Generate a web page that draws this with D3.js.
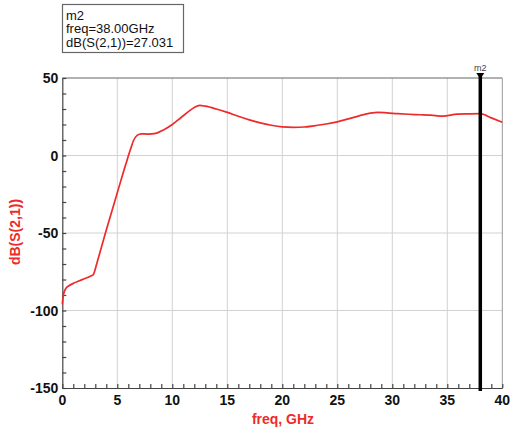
<!DOCTYPE html>
<html><head><meta charset="utf-8">
<script src="https://cdn.jsdelivr.net/npm/d3@7"></script>
<style>body{margin:0;background:#fff;}svg{display:block;font-family:"Liberation Sans",Arial,sans-serif;}</style>
</head><body><svg id="c" width="511" height="430"></svg>
<script>
const freq = [0, 0.1, 0.3, 0.6, 1, 1.5, 2, 2.5, 2.8, 3.2, 4, 5, 5.8, 6.2, 6.5, 6.8, 7.2, 7.8, 8.5, 9.2, 10, 10.8, 11.5, 12, 12.5, 13, 14, 15, 16, 17, 18, 19, 20, 21, 22, 23, 24, 25, 26, 27, 28, 28.7, 29.5, 30.5, 31.5, 32.5, 33.5, 34.6, 35.9, 37, 38, 39, 40];
const s21 = [-96, -90, -86, -84, -82.5, -81, -79.5, -78, -77, -68, -48, -24, -5, 4, 10, 13, 14, 13.8, 14.3, 16.5, 20, 24.5, 28.5, 31, 32.3, 31.8, 30, 27.8, 25.3, 23, 21, 19.5, 18.5, 18.2, 18.4, 19.3, 20.3, 21.7, 23.6, 25.6, 27.3, 27.8, 27.5, 27.0, 26.6, 26.3, 26.0, 25.4, 26.7, 26.9, 27.0, 24.3, 21.5];
const xTicks = [0, 5, 10, 15, 20, 25, 30, 35, 40];
const yTicks = [50, 0, -50, -100, -150];
const markerName = "m2";
const markerFreq = 38;
const markerLines = ["m2", "freq=38.00GHz", "dB(S(2,1))=27.031"];
const xTitle = "freq, GHz";
const yTitle = "dB(S(2,1))";

const svg = d3.select("#c");
const L = 62.3, R = 502.3, T = 78, B = 388;
const x = d3.scaleLinear().domain([0, 40]).range([L, R]);
const y = d3.scaleLinear().domain([-150, 50]).range([B, T]);
const red = "#ee2a2a";

// grid
svg.append("g").selectAll("line").data(xTicks.slice(1, -1)).join("line")
  .attr("x1", d => x(d)).attr("x2", d => x(d)).attr("y1", T).attr("y2", B)
  .attr("stroke", "#d2d2d2").attr("stroke-width", 1);
svg.append("g").selectAll("line").data(yTicks.slice(1, -1)).join("line")
  .attr("x1", L).attr("x2", R).attr("y1", d => y(d)).attr("y2", d => y(d))
  .attr("stroke", "#d2d2d2").attr("stroke-width", 1);

// frame top / right
svg.append("line").attr("x1", L).attr("x2", R).attr("y1", T).attr("y2", T).attr("stroke", "#666").attr("stroke-width", 1.2);
svg.append("line").attr("x1", R).attr("x2", R).attr("y1", T).attr("y2", B).attr("stroke", "#999").attr("stroke-width", 1);

// axes with inward minor ticks
const yAxis = d3.axisLeft(y).tickValues(d3.range(-150, 51, 10)).tickSizeInner(-4).tickSizeOuter(0).tickFormat("");
const gy = svg.append("g").attr("transform", `translate(${L},0)`).call(yAxis);
gy.selectAll("path,line").attr("stroke", "#444").attr("stroke-width", 1.2);
const xAxis = d3.axisBottom(x).tickValues(d3.range(0, 41, 1)).tickSizeInner(-4).tickSizeOuter(0).tickFormat("");
const gx = svg.append("g").attr("transform", `translate(0,${B})`).call(xAxis);
gx.selectAll("path,line").attr("stroke", "#444").attr("stroke-width", 1.2);

// tick labels
svg.append("g").selectAll("text").data(yTicks).join("text")
  .attr("x", L - 4).attr("y", d => y(d) + 5).attr("text-anchor", "end")
  .attr("font-size", 14).attr("font-weight", "bold").attr("fill", "#111").text(d => d);
svg.append("g").selectAll("text").data(xTicks).join("text")
  .attr("x", d => x(d)).attr("y", B + 17).attr("text-anchor", "middle")
  .attr("font-size", 14).attr("font-weight", "bold").attr("fill", "#111").text(d => d);

// titles
svg.append("text").attr("x", 283).attr("y", 424).attr("text-anchor", "middle")
  .attr("font-size", 14).attr("font-weight", "bold").attr("fill", red).text(xTitle);
svg.append("text").attr("transform", "translate(20,232) rotate(-90)").attr("text-anchor", "middle")
  .attr("font-size", 14).attr("font-weight", "bold").attr("fill", red).text(yTitle);

// curve
const line = d3.line().x((d, i) => x(freq[i])).y(d => y(d)).curve(d3.curveMonotoneX);
svg.append("path").datum(s21).attr("d", line).attr("fill", "none").attr("stroke", red).attr("stroke-width", 1.7);

// marker
const mx = x(markerFreq);
svg.append("line").attr("x1", mx).attr("x2", mx).attr("y1", T - 2).attr("y2", B + 3).attr("stroke", "#000").attr("stroke-width", 3.5);
svg.append("path").attr("d", `M${mx - 4},${T - 5}L${mx + 4},${T - 5}L${mx},${T + 1}Z`).attr("fill", "#000");
svg.append("text").attr("x", mx).attr("y", T - 7).attr("text-anchor", "middle").attr("font-size", 9).attr("fill", "#444").text(markerName);

// marker readout box
svg.append("rect").attr("x", 62.5).attr("y", 4.5).attr("width", 121).attr("height", 48).attr("fill", "#fff").attr("stroke", "#666").attr("stroke-width", 1.2);
svg.append("g").selectAll("text").data(markerLines).join("text")
  .attr("x", 66).attr("y", (d, i) => 19.5 + i * 13.5).attr("font-size", 13).attr("fill", "#111").text(d => d);
</script></body></html>
